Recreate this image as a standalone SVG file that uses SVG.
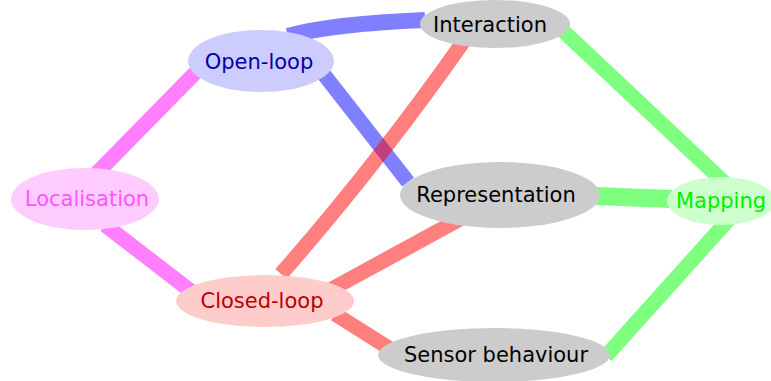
<svg xmlns="http://www.w3.org/2000/svg" width="771" height="381" viewBox="0 0 771 381">
<style>
.e{fill:none;stroke-width:15;stroke-opacity:0.5;stroke-linecap:butt}
.b{stroke:#0000ff}.r{stroke:#ff0000}.g{stroke:#00ff00}.p{stroke:#ff00ff}
text{font-family:"DejaVu Sans",sans-serif;font-size:21px;text-anchor:middle}
</style>
<rect width="771" height="381" fill="#ffffff"/>
<g id="connectors">
<path class="e b" style="stroke-width:16" d="M288,36 Q330,24 425,20"/>
<path class="e b" d="M322,72 L408,182"/>
<path class="e p" d="M95,175 L200,68"/>
<path class="e p" d="M105,225 L192,292"/>
<path class="e r" d="M281,274 Q376,166 466,38"/>
<path class="e r" d="M330,290 L462,218"/>
<path class="e r" d="M335,314 L395,352"/>
<path class="e g" d="M560,28 L728,186"/>
<path class="e g" style="stroke-width:18" d="M595,196 L672,199"/>
<path class="e g" d="M606,356 L730,218"/>
</g>
<g id="open-loop"><ellipse cx="261" cy="61" rx="73" ry="31" fill="#ccccff"/><text x="259" y="69" fill="#0000aa">Open-loop</text></g>
<g id="interaction"><ellipse cx="495" cy="24" rx="75" ry="24" fill="#cccccc"/><text x="490" y="32" fill="#000000">Interaction</text></g>
<g id="localisation"><ellipse cx="85" cy="199" rx="74" ry="31" fill="#ffccff"/><text x="87" y="206" fill="#ff55ff">Localisation</text></g>
<g id="representation"><ellipse cx="500" cy="195" rx="100" ry="33" fill="#cccccc"/><text x="496" y="202" fill="#000000">Representation</text></g>
<g id="mapping"><ellipse cx="721" cy="201" rx="54" ry="24" fill="#ccffcc"/><text x="721" y="208" fill="#00ee00">Mapping</text></g>
<g id="closed-loop"><ellipse cx="265" cy="301" rx="89" ry="26" fill="#ffcccc"/><text x="262" y="308" fill="#bb0000">Closed-loop</text></g>
<g id="sensor-behaviour"><ellipse cx="494" cy="355" rx="116" ry="27" fill="#cccccc"/><text x="496" y="362" fill="#000000">Sensor behaviour</text></g>
</svg>
